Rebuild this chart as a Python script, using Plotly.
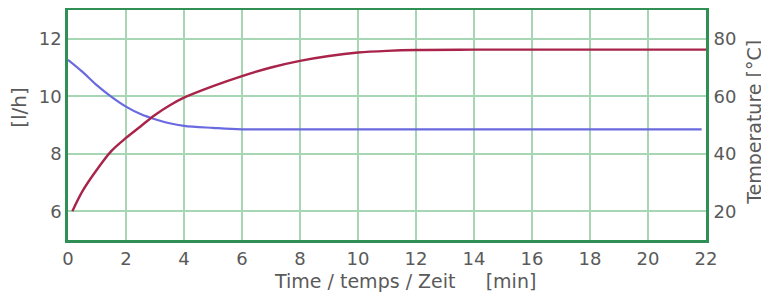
import plotly.graph_objects as go

# Flow [l/h] (blue, left axis)
flow_time = [0, 0.5, 1.0, 1.5, 2.0, 2.5, 3.0, 3.5, 4.0, 5.0, 6.0, 8.0, 10.0, 14.0, 18.0, 21.85]
flow_values = [11.27, 10.85, 10.38, 9.98, 9.64, 9.38, 9.2, 9.06, 8.97, 8.9, 8.85, 8.85, 8.85, 8.85, 8.85, 8.85]

# Temperature [°C] (red, right axis)
temp_time = [0.15, 0.5, 1.0, 1.5, 2.0, 2.5, 3.0, 3.5, 4.0, 5.0, 6.0, 7.0, 8.0, 9.0, 10.0, 11.0, 12.0, 14.0, 18.0, 22.0]
temp_values = [20, 27, 34.5, 41, 45.5, 49.5, 53.5, 56.8, 59.5, 63.5, 67, 70, 72.3, 74, 75.2, 75.8, 76.1, 76.2, 76.2, 76.2]

x_ticks = [0, 2, 4, 6, 8, 10, 12, 14, 16, 18, 20, 22]
left_ticks = [6, 8, 10, 12]
right_ticks = [20, 40, 60, 80]

x_title = "Time / temps / Zeit&nbsp;&nbsp;&nbsp;&nbsp;&nbsp;[min]"
left_title = "[l/h]"
right_title = "Temperature [°C]"

grid_col = "#a6d6b3"
frame_col = "#2f8f55"
text_col = "#5a5a5a"
family = "DejaVu Sans, Verdana, sans-serif"
tick_font = dict(family=family, size=18, color=text_col)

fig = go.Figure()
fig.add_trace(go.Scatter(x=flow_time, y=flow_values, mode="lines",
                         line=dict(color="#6a6ae0", width=2.2, shape="spline"), yaxis="y"))
fig.add_trace(go.Scatter(x=temp_time, y=temp_values, mode="lines",
                         line=dict(color="#a8244a", width=2.4, shape="spline"), yaxis="y2"))

fig.update_layout(
    width=769, height=293,
    margin=dict(l=60, r=71, t=2, b=61, autoexpand=False),
    paper_bgcolor="white", plot_bgcolor="white",
    showlegend=False,
    font=tick_font,
    xaxis=dict(range=[0, 22], tickvals=x_ticks, showgrid=True, gridcolor=grid_col, gridwidth=2,
               zeroline=False, showline=True, linecolor=frame_col, linewidth=2.5, mirror=True,
               ticks="outside", ticklen=1, tickcolor="rgba(0,0,0,0)", tickfont=tick_font, automargin=False),
    yaxis=dict(range=[5, 13], tickvals=left_ticks, showgrid=True, gridcolor=grid_col, gridwidth=2,
               zeroline=False, showline=True, linecolor=frame_col, linewidth=2.5, mirror=True,
               ticks="", tickfont=tick_font, automargin=False),
    yaxis2=dict(range=[10, 90], tickvals=right_ticks, overlaying="y", side="right", showgrid=False,
                zeroline=False, showline=False, ticks="outside", ticklen=3, tickcolor="rgba(0,0,0,0)",
                tickfont=tick_font, automargin=False),
    annotations=[
        dict(text=x_title, xref="paper", yref="paper", x=0.528, y=-0.178, showarrow=False,
             xanchor="center", yanchor="middle", font=dict(family=family, size=19, color=text_col)),
        dict(text=left_title, xref="paper", yref="paper", x=-0.078, y=0.576, showarrow=False,
             textangle=-90, xanchor="center", yanchor="middle", font=dict(family=family, size=20, color=text_col)),
        dict(text=right_title, xref="paper", yref="paper", x=1.075, y=0.513, showarrow=False,
             textangle=-90, xanchor="center", yanchor="middle", font=dict(family=family, size=19, color=text_col)),
    ],
)

fig.write_html("out.html")
